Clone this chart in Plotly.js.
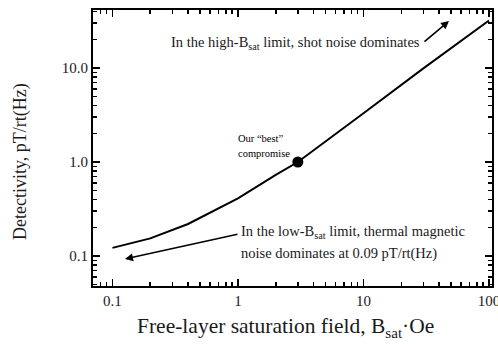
<!DOCTYPE html>
<html>
<head>
<meta charset="utf-8">
<script src="https://cdn.plot.ly/plotly-3.0.1.min.js"></script>
<style>html,body{margin:0;padding:0;background:#fff;}#chart{width:498px;height:344px;}</style>
</head>
<body>
<div id="chart"></div>
<script>
// Data
const bsat = [0.1, 0.2, 0.4, 1, 2, 3, 10, 30, 100];
const detectivity = [0.122, 0.154, 0.219, 0.41, 0.73, 1.0, 3.3, 9.9, 32];
const bestX = [3];
const bestY = [1.0];
const xTickVals = [0.1, 1, 10, 100];
const xTickText = ['0.1', '1', '10', '100'];
const yTickVals = [0.1, 1, 10];
const yTickText = ['0.1', '1.0', '10.0'];

function minorTicks(decades) {
  const out = [];
  decades.forEach(d => { for (let k = 2; k <= 9; k++) out.push(+(k * d).toPrecision(3)); });
  return out;
}
const xMinor = minorTicks([0.01, 0.1, 1, 10]);
const yMinor = minorTicks([0.01, 0.1, 1, 10]);

const FONT = 'Liberation Serif, Times New Roman, serif';
const INK = '#1a1a1a';

const traces = [
  {x: bsat, y: detectivity, mode: 'lines', line: {color: '#000', width: 2}, hoverinfo: 'skip'},
  {x: bestX, y: bestY, mode: 'markers', marker: {color: '#000', size: 11}, hoverinfo: 'skip'},
  {x: [], y: [], xaxis: 'x2', yaxis: 'y2', mode: 'lines', hoverinfo: 'skip'}
];

// plot area in pixels
const L = 93, R = 492, T = 10, B = 286;
const px = v => (v - L) / (R - L);
const py = v => (B - v) / (B - T);
const XR = [-1.155, 2.024];
const YR = [-1.319, 1.617];

const minorStyle = {ticks: 'inside', ticklen: 4, tickwidth: 1.5, tickcolor: '#000', showgrid: false};
const axisCommon = {
  type: 'log', showline: true, linecolor: '#000', linewidth: 2,
  ticks: 'inside', ticklen: 7, tickwidth: 1.5, tickcolor: '#000',
  showgrid: false, zeroline: false, ticklabeloverflow: 'allow',
  tickfont: {family: FONT, size: 15, color: INK}
};

const layout = {
  width: 498, height: 344,
  margin: {l: L, r: 498 - R, t: T, b: 344 - B},
  paper_bgcolor: '#fff', plot_bgcolor: '#fff',
  showlegend: false,
  xaxis: Object.assign({}, axisCommon, {
    range: XR, tickmode: 'array', tickvals: xTickVals, ticktext: xTickText,
    minor: Object.assign({tickmode: 'array', tickvals: xMinor}, minorStyle)
  }),
  yaxis: Object.assign({}, axisCommon, {
    range: YR, tickmode: 'array', tickvals: yTickVals, ticktext: yTickText,
    minor: Object.assign({tickmode: 'array', tickvals: yMinor}, minorStyle)
  }),
  xaxis2: Object.assign({}, axisCommon, {
    overlaying: 'x', side: 'top', anchor: 'y2', range: XR, showticklabels: false,
    tickmode: 'array', tickvals: xTickVals,
    minor: Object.assign({tickmode: 'array', tickvals: xMinor}, minorStyle)
  }),
  yaxis2: Object.assign({}, axisCommon, {
    overlaying: 'y', side: 'right', anchor: 'x2', range: YR, showticklabels: false,
    tickmode: 'array', tickvals: yTickVals,
    minor: Object.assign({tickmode: 'array', tickvals: yMinor}, minorStyle)
  }),
  annotations: [
    {xref: 'paper', yref: 'paper', x: px(285), y: py(327), xanchor: 'center', yanchor: 'middle',
     text: 'Free-layer saturation field, B<sub>sat</sub>·Oe', showarrow: false,
     font: {family: FONT, size: 21.5, color: INK}},
    {xref: 'paper', yref: 'paper', x: px(20), y: py(162), xanchor: 'center', yanchor: 'middle',
     textangle: -90, text: 'Detectivity, pT/rt(Hz)', showarrow: false,
     font: {family: FONT, size: 18, color: INK}},
    {xref: 'paper', yref: 'paper', x: px(422), y: py(43), xanchor: 'right', yanchor: 'middle',
     text: 'In the high-B<sub>sat</sub> limit, shot noise dominates', showarrow: false,
     font: {family: FONT, size: 14.5, color: INK}},
    {xref: 'paper', yref: 'paper', x: px(449), y: py(21), ax: -26, ay: 22, text: '',
     showarrow: true, arrowhead: 2, arrowsize: 1, arrowwidth: 1.6, arrowcolor: '#000'},
    {xref: 'paper', yref: 'paper', x: px(236), y: py(138), xanchor: 'left', yanchor: 'middle',
     text: 'Our “best”', showarrow: false, font: {family: FONT, size: 10.5, color: '#000'}},
    {xref: 'paper', yref: 'paper', x: px(236), y: py(153), xanchor: 'left', yanchor: 'middle',
     text: 'compromise', showarrow: false, font: {family: FONT, size: 10.5, color: '#000'}},
    {xref: 'paper', yref: 'paper', x: px(239), y: py(232), xanchor: 'left', yanchor: 'middle',
     text: 'In the low-B<sub>sat</sub> limit, thermal magnetic', showarrow: false,
     font: {family: FONT, size: 14.5, color: INK}},
    {xref: 'paper', yref: 'paper', x: px(239), y: py(253), xanchor: 'left', yanchor: 'middle',
     text: 'noise dominates at 0.09 pT/rt(Hz)', showarrow: false,
     font: {family: FONT, size: 14.5, color: INK}},
    {xref: 'paper', yref: 'paper', x: px(125), y: py(259), ax: 114, ay: -25, text: '',
     showarrow: true, arrowhead: 2, arrowsize: 1, arrowwidth: 1.6, arrowcolor: '#000'}
  ]
};

Plotly.newPlot('chart', traces, layout, {staticPlot: true, displayModeBar: false});
</script>
</body>
</html>
